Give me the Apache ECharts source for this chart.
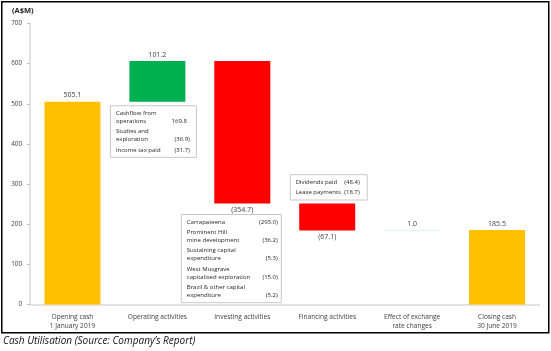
<!DOCTYPE html>
<html>
<head>
<meta charset="utf-8">
<script src="https://cdn.jsdelivr.net/npm/echarts@6/dist/echarts.min.js"></script>
<style>
  html, body { margin: 0; padding: 0; background: #fff; }
  #chart { width: 551px; height: 351px; }
</style>
</head>
<body>
<div id="chart"></div>
<script>
  // waterfall data (A$M)
  const categories = [
    "Opening cash\n1 January 2019",
    "Operating activities",
    "Investing activities",
    "Financing activities",
    "Effect of exchange\nrate changes",
    "Closing cash\n30 June 2019"
  ];
  const flows = [505.1, 101.2, -354.7, -67.1, 1.0, 185.5];
  const isTotal = [true, false, false, false, false, true];
  const yTicks = [0, 100, 200, 300, 400, 500, 600, 700];

  // breakdown notes shown in the boxes
  const operatingNotes = [
    ["Cashflow from\noperations", "169.8"],
    ["Studies and\nexploration", "(36.9)"],
    ["Income tax paid", "(31.7)"]
  ];
  const investingNotes = [
    ["Carrapateena", "(293.0)"],
    ["Prominent Hill\nmine development", "(36.2)"],
    ["Sustaining capital\nexpenditure", "(5.3)"],
    ["West Musgrave\ncapitalised exploration", "(15.0)"],
    ["Brazil & other capital\nexpenditure", "(5.2)"]
  ];
  const financingNotes = [
    ["Dividends paid", "(48.4)"],
    ["Lease payments", "(18.7)"]
  ];

  const FONT = "Open Sans";
  const TXT = "#404040";

  // running totals -> invisible base + visible step
  const base = [];
  const step = [];
  let running = 0;
  flows.forEach((v, i) => {
    if (isTotal[i]) {
      base.push(0);
      step.push(v);
      running = v;
    } else if (v >= 0) {
      base.push(running);
      step.push(v);
      running += v;
    } else {
      running += v;
      base.push(running);
      step.push(-v);
    }
  });

  function barColor(i) {
    if (isTotal[i]) return "#FFC000";
    if (i === 4) return "#BDE9D8";
    return flows[i] >= 0 ? "#00B050" : "#FF0000";
  }

  const chart = echarts.init(document.getElementById("chart"));

  chart.setOption({
    animation: false,
    grid: { left: 30, right: 11.5, top: 23.5, bottom: 46.5 },
    xAxis: {
      type: "category",
      data: categories,
      axisLine: { lineStyle: { color: "#d9d9d9", width: 1.5 } },
      axisTick: { show: false },
      axisLabel: { color: TXT, fontFamily: FONT, fontSize: 6.6, lineHeight: 9, margin: 8 }
    },
    yAxis: {
      type: "value",
      min: yTicks[0],
      max: yTicks[yTicks.length - 1],
      interval: 100,
      splitLine: { show: false },
      axisLine: { show: true, lineStyle: { color: "#d9d9d9", width: 1.5 } },
      axisTick: { show: true, length: 3, lineStyle: { color: "#bfbfbf" } },
      axisLabel: { color: TXT, fontFamily: FONT, fontSize: 6.3, margin: 8 }
    },
    series: [
      {
        type: "bar",
        stack: "w",
        barWidth: 56,
        silent: true,
        itemStyle: { color: "transparent" },
        data: base
      },
      {
        type: "bar",
        stack: "w",
        barWidth: 56,
        data: step.map((v, i) => ({
          value: v,
          itemStyle: { color: barColor(i) },
          label: {
            show: true,
            position: flows[i] < 0 ? "bottom" : "top",
            distance: 3,
            color: TXT,
            fontFamily: FONT,
            fontSize: 7,
            formatter: () => flows[i] < 0 ? "(" + (-flows[i]).toFixed(1) + ")" : flows[i].toFixed(1)
          }
        }))
      }
    ]
  });

  // note boxes anchored to the bars
  function noteBox(id, notes, left, top, width, valueRight) {
    const lineH = 8;
    const gap = 2.3;
    const pad = 7.5;
    const font = "6px " + FONT;
    const children = [];
    let y = pad;
    notes.forEach(([label, val], n) => {
      const lines = label.split("\n");
      lines.forEach((ln, k) => {
        children.push({
          type: "text", x: 5.5, y: y,
          style: { text: ln, font: font, fill: "#262626", verticalAlign: "middle" }
        });
        if (k === lines.length - 1) {
          // positive values leave room for the closing bracket
          const vx = val.endsWith(")") ? valueRight : valueRight - 3;
          children.push({
            type: "text", x: vx, y: y,
            style: { text: val, font: font, fill: "#262626", align: "right", verticalAlign: "middle" }
          });
        }
        if (k < lines.length - 1) y += lineH;
      });
      if (n < notes.length - 1) y += lineH + gap;
    });
    const h = y + pad;
    children.unshift({
      type: "rect", shape: { x: 0, y: 0, width: width, height: h },
      style: { fill: "#fff", stroke: "#c8c8c8", lineWidth: 1 }
    });
    return { id: id, type: "group", x: left, y: top, children: children, boxH: h };
  }

  const px = (i, v) => chart.convertToPixel({ gridIndex: 0 }, [i, v]);
  const p1 = px(1, base[1]);
  const p2 = px(2, base[2]);
  const p3 = px(3, base[2]);

  const box1 = noteBox("ops", operatingNotes, p1[0] - 47, p1[1] + 4, 86, 79.5);
  const box2 = noteBox("inv", investingNotes, p2[0] - 61, p2[1] + 11, 100, 96.5);
  const box3 = noteBox("fin", financingNotes, p3[0] - 37, 0, 77, 69.5);
  box3.y = p3[1] - 3.5 - box3.boxH;
  [box1, box2, box3].forEach(b => delete b.boxH);

  chart.setOption({
    graphic: [
      box1, box2, box3,
      {
        id: "unit", type: "text", left: 12, top: 7,
        style: { text: "(A$M)", font: "bold 7.5px " + FONT, fill: "#222" }
      },
      {
        id: "caption", type: "text", left: 3, top: 336,
        style: { text: "Cash Utilisation (Source: Company\u2019s Report)", font: "italic 10px " + FONT, fill: "#111" }
      },
      {
        id: "frame", type: "rect", left: 1, top: 1, z: 10,
        shape: { width: 547, height: 331 },
        style: { fill: "transparent", stroke: "#000", lineWidth: 1.5 }
      }
    ]
  });
</script>
</body>
</html>
